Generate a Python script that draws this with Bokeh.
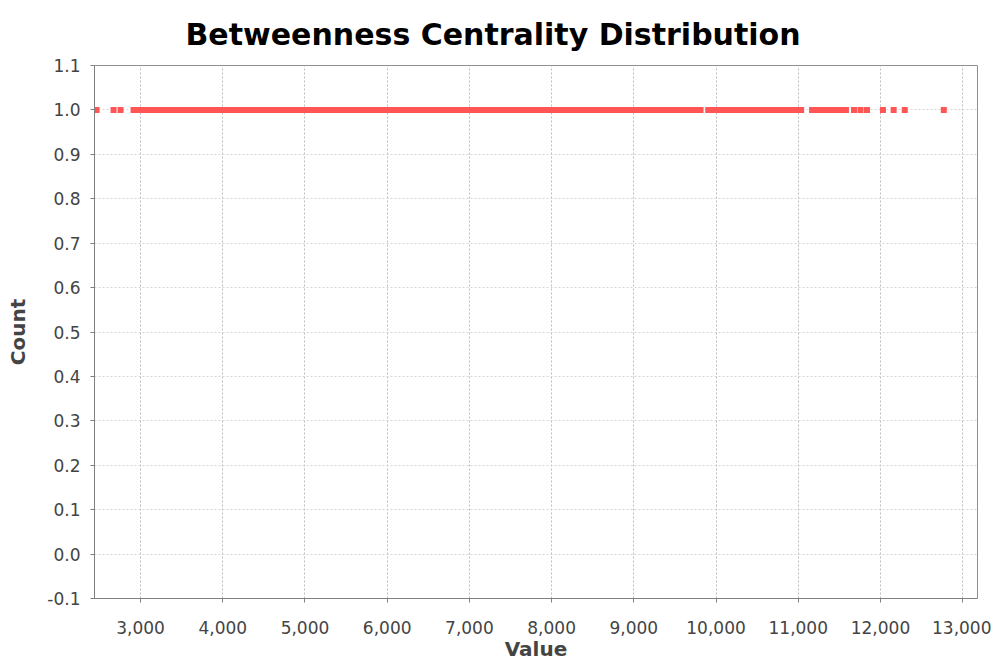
from bokeh.plotting import figure
from bokeh.models import ColumnDataSource, FixedTicker, NumeralTickFormatter, Range1d, Title
from bokeh.embed import file_html
from bokeh.resources import INLINE

# Betweenness centrality values (each observed once)
values = [
    2465, 2672, 2757,
    2915, 2948, 2990, 3027, 3061, 3104, 3139, 3175, 3218, 3252, 3290, 3331, 3367, 3402, 3446,
    3481, 3519, 3560, 3594, 3633, 3671, 3712, 3748, 3786, 3825, 3862, 3900, 3941, 3977, 4015,
    4056, 4090, 4131, 4168, 4207, 4243, 4285, 4322, 4360, 4398, 4437, 4474, 4515, 4552, 4589,
    4630, 4667, 4705, 4744, 4782, 4820, 4859, 4896, 4935, 4973, 5012, 5050, 5088, 5127, 5164,
    5203, 5241, 5280, 5318, 5357, 5395, 5433, 5472, 5510, 5548, 5587, 5625, 5664, 5702, 5740,
    5779, 5817, 5856, 5894, 5932, 5971, 6009, 6048, 6086, 6124, 6163, 6201, 6240, 6278, 6316,
    6355, 6393, 6432, 6470, 6508, 6547, 6585, 6624, 6662, 6700, 6739, 6777, 6816, 6854, 6892,
    6931, 6969, 7008, 7046, 7084, 7123, 7161, 7200, 7238, 7276, 7315, 7353, 7392, 7430, 7468,
    7507, 7545, 7584, 7622, 7660, 7699, 7737, 7776, 7814, 7852, 7891, 7929, 7968, 8006, 8044,
    8083, 8121, 8160, 8198, 8236, 8275, 8313, 8352, 8390, 8428, 8467, 8505, 8544, 8582, 8620,
    8659, 8697, 8736, 8774, 8812, 8851, 8889, 8928, 8966, 9004, 9043, 9081, 9120, 9158, 9196,
    9235, 9273, 9312, 9350, 9388, 9427, 9465, 9504, 9542, 9580, 9619, 9657, 9696, 9734, 9772,
    9811, 9905, 9941, 9979, 10018, 10056, 10094, 10133, 10171, 10210, 10248, 10286, 10325,
    10363, 10402, 10440, 10478, 10517, 10555, 10594, 10632, 10670, 10709, 10747, 10786, 10824,
    10862, 10901, 10939, 10978,
    11035, 11168, 11205, 11241, 11282, 11318, 11355, 11394, 11431, 11470, 11508, 11546, 11580,
    11678, 11757, 11836, 12030, 12160, 12295, 12770,
]
counts = [1] * len(values)

x_ticks = [3000, 4000, 5000, 6000, 7000, 8000, 9000, 10000, 11000, 12000, 13000]
y_ticks = [-0.1, 0.0, 0.1, 0.2, 0.3, 0.4, 0.5, 0.6, 0.7, 0.8, 0.9, 1.0, 1.1]

src = ColumnDataSource(dict(x=values, y=counts))

p = figure(width=991, height=663, output_backend="svg", toolbar_location=None,
           x_range=Range1d(2440, 13180), y_range=Range1d(-0.1, 1.1),
           min_border_left=94, min_border_right=14, min_border_top=65, min_border_bottom=65)

p.title = Title(text="Betweenness Centrality Distribution", align="left", offset=91,
                text_font="DejaVu Sans", text_font_size="30px", text_font_style="bold",
                text_color="#000000", standoff=28)

p.scatter("x", "y", source=src, marker="square", size=6, fill_color="#ff5555",
          line_color="#ff5555", line_width=0)

p.xaxis.ticker = FixedTicker(ticks=x_ticks)
p.yaxis.ticker = FixedTicker(ticks=y_ticks)
p.xaxis.formatter = NumeralTickFormatter(format="0,0")
p.yaxis.formatter = NumeralTickFormatter(format="0.0")

for ax in (p.xaxis, p.yaxis):
    ax.axis_line_color = "#808080"
    ax.major_tick_line_color = "#808080"
    ax.major_tick_out = 4
    ax.major_tick_in = 0
    ax.minor_tick_line_color = None
    ax.major_label_text_font = "DejaVu Sans"
    ax.major_label_text_font_size = "17px"
    ax.major_label_text_color = "#444444"
    ax.axis_label_text_font = "DejaVu Sans"
    ax.axis_label_text_font_size = "20px"
    ax.axis_label_text_font_style = "bold"
    ax.axis_label_text_color = "#444444"

p.xaxis.axis_label = "Value"
p.yaxis.axis_label = "Count"
p.xaxis.major_label_standoff = 18
p.yaxis.major_label_standoff = 10
p.xaxis.axis_label_standoff = 0
p.yaxis.axis_label_standoff = 14

p.xgrid.grid_line_color = "#bcbcbc"
p.xgrid.grid_line_dash = "2 2"
p.ygrid.grid_line_color = "#d6d6d6"
p.ygrid.grid_line_dash = "2 2"

p.outline_line_color = "#909090"
p.background_fill_color = "#ffffff"
p.border_fill_color = "#ffffff"

open("out.html", "w").write(file_html(p, INLINE))
